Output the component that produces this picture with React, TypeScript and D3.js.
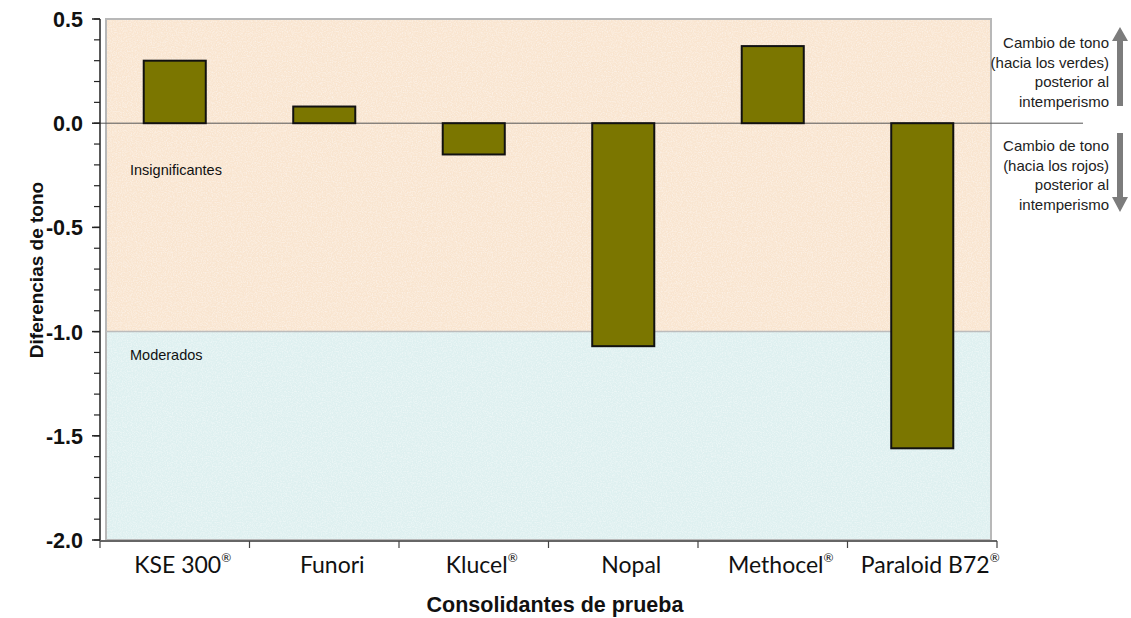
import React from "react";
import * as d3 from "d3";

// consolidantes y diferencias de tono
const categories = ["KSE 300®", "Funori", "Klucel®", "Nopal", "Methocel®", "Paraloid B72®"];
const values = [0.3, 0.08, -0.15, -1.07, 0.37, -1.56];
const yTicks = [0.5, 0.0, -0.5, -1.0, -1.5, -2.0];
const zones = [
  { name: "Insignificantes", from: 0.5, to: -1.0, color: "#f9e5d0" },
  { name: "Moderados", from: -1.0, to: -2.0, color: "#def0f0" },
];
const upNote = ["Cambio de tono", "(hacia los verdes)", "posterior al", "intemperismo"];
const downNote = ["Cambio de tono", "(hacia los rojos)", "posterior al", "intemperismo"];

const W = 1131;
const H = 618;
const left = 100;
const right = 997;
const top = 19;
const bottom = 540;

function Label({ text, x, y }: { text: string; x: number; y: number }) {
  const parts = text.split("®");
  return (
    <text x={x} y={y} textAnchor="middle" fontFamily="Lato, 'Liberation Sans', sans-serif" fontSize={23} fill="#111">
      {parts[0]}
      {text.includes("®") && (
        <tspan fontSize={12} dy={-11}>®</tspan>
      )}
    </text>
  );
}

export default function App() {
  const x = d3.scaleBand<string>()
    .domain(categories)
    .range([left, right])
    .paddingInner(0.585)
    .paddingOuter(0.2925);
  const y = d3.scaleLinear().domain([-2, 0.5]).range([bottom, top]);
  const step = x.step();
  const minor = d3.range(-20, 6).map(d => d / 10);
  const sans = "'Liberation Sans', Arial, Helvetica, sans-serif";
  const fmt = (t: number) => d3.format(".1f")(t).replace("−", "-");

  return (
    <svg width={W} height={H} style={{ position: "absolute", left: 0, top: 0, background: "#fff" }}>
      <defs>
        <filter id="grain" x="0" y="0" width="100%" height="100%">
          <feTurbulence type="fractalNoise" baseFrequency="0.8" numOctaves={2} seed={3} result="n" />
          <feColorMatrix in="n" type="matrix"
            values="0 0 0 0 1  0 0 0 0 1  0 0 0 0 1  0 0 0 -0.9 0.55" result="w" />
          <feComposite in="w" in2="SourceGraphic" operator="over" />
        </filter>
      </defs>

      {/* zonas de fondo */}
      <g filter="url(#grain)">
        {zones.map(z => (
          <rect key={z.name} x={left + 6} y={y(z.from)} width={right - left - 12}
            height={y(z.to) - y(z.from)} fill={z.color} />
        ))}
      </g>
      <rect x={left + 6} y={y(0.5)} width={right - left - 12} height={y(-2) - y(0.5)}
        fill="none" stroke="#b8b8b8" strokeWidth={2} />
      <line x1={left + 6} x2={right - 6} y1={y(-1)} y2={y(-1)} stroke="#bcbcbc" strokeWidth={1.5} />
      {zones.map(z => (
        <text key={z.name} x={130} y={y(z.from) + (z.from === 0.5 ? 156 : 28)}
          fontFamily={sans} fontSize={14.5} fill="#111">{z.name}</text>
      ))}

      {/* línea cero */}
      <line x1={left} x2={1083} y1={y(0)} y2={y(0)} stroke="#555" strokeWidth={1} />

      {/* barras */}
      {categories.map((c, i) => (
        <rect key={c} x={x(c)} width={x.bandwidth()}
          y={y(Math.max(0, values[i]))} height={Math.abs(y(values[i]) - y(0))}
          fill="#7b7600" stroke="#111" strokeWidth={2} />
      ))}

      {/* eje y */}
      <line x1={left} x2={left} y1={y(0.5)} y2={bottom + 1} stroke="#222" strokeWidth={1.5} />
      {minor.map(t => (
        <line key={t} x1={left - 6} x2={left} y1={y(t)} y2={y(t)} stroke="#222" strokeWidth={1.2} />
      ))}
      {yTicks.map(t => (
        <g key={t}>
          <line x1={left - 8} x2={left} y1={y(t)} y2={y(t)} stroke="#222" strokeWidth={1.5} />
          <text x={83} y={y(t) + 8} textAnchor="end" fontFamily={sans} fontWeight="bold"
            fontSize={21.5} fill="#111">{fmt(t)}</text>
        </g>
      ))}
      <text transform={`translate(43, 270) rotate(-90)`} textAnchor="middle" fontFamily={sans}
        fontWeight="bold" fontSize={19} fill="#111">Diferencias de tono</text>

      {/* eje x */}
      <line x1={left} x2={right} y1={bottom + 1} y2={bottom + 1} stroke="#666" strokeWidth={2} />
      {d3.range(categories.length + 1).map(i => (
        <line key={i} x1={left + i * step} x2={left + i * step} y1={bottom + 1} y2={bottom + 8}
          stroke="#444" strokeWidth={1.2} />
      ))}
      {categories.map(c => (
        <Label key={c} text={c} x={(x(c) ?? 0) + x.bandwidth() / 2 + 8} y={573} />
      ))}
      <text x={555} y={612} textAnchor="middle" fontFamily={sans} fontWeight="bold" fontSize={21.5}
        fill="#111">Consolidantes de prueba</text>

      {/* notas a la derecha */}
      {upNote.map((t, i) => (
        <text key={"u" + i} x={1109} y={48 + i * 19.7} textAnchor="end" fontFamily={sans}
          fontSize={15} fill="#222">{t}</text>
      ))}
      {downNote.map((t, i) => (
        <text key={"d" + i} x={1109} y={151 + i * 19.5} textAnchor="end" fontFamily={sans}
          fontSize={15} fill="#222">{t}</text>
      ))}
      <path d="M1117,106 L1117,41 L1112,41 L1120,27 L1128,41 L1123,41 L1123,106 Z" fill="#7c7c7c" />
      <path d="M1117,133 L1117,197 L1112,197 L1120,212 L1128,197 L1123,197 L1123,133 Z" fill="#7c7c7c" />
    </svg>
  );
}
